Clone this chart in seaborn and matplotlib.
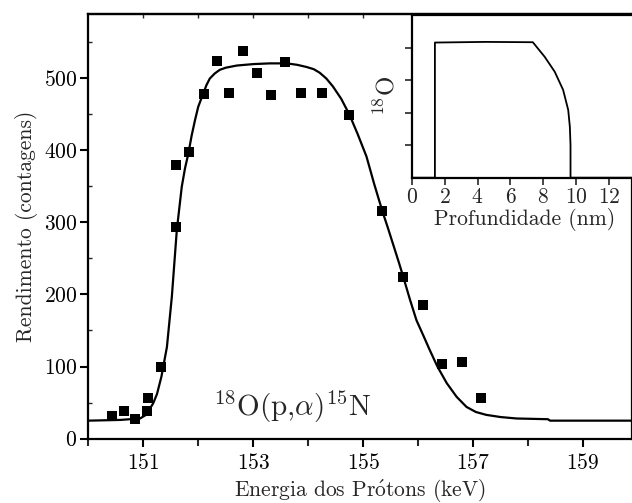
import numpy as np
import pandas as pd
import seaborn as sns
import matplotlib
matplotlib.use("Agg")
import matplotlib.pyplot as plt
from matplotlib.ticker import MultipleLocator

# measured yield (squares)
energia = [150.44, 150.65, 150.85, 151.07, 151.09, 151.33, 151.59, 151.59, 151.84,
           152.10, 152.35, 152.56, 152.82, 153.07, 153.32, 153.58, 153.87, 154.25,
           154.75, 155.35, 155.73, 156.08, 156.43, 156.79, 157.14]
rendimento = [32, 39, 27, 39, 57, 100, 294, 379, 397,
              477, 523, 479, 537, 506, 476, 522, 479, 479,
              449, 315, 224, 185, 104, 106, 57]

# simulated excitation curve
energia_sim = [150.0, 150.58, 150.94, 151.05, 151.18, 151.25, 151.33, 151.43, 151.52,
               151.61, 151.70, 151.76, 151.82, 151.88, 151.94, 152.0, 152.09, 152.15,
               152.21, 152.3, 152.39, 152.5, 152.7, 153.0, 153.3, 153.61, 153.8,
               153.97, 154.1, 154.21, 154.33, 154.45, 154.6, 154.75, 154.9, 155.06,
               155.2, 155.35, 155.45, 155.55, 155.65, 155.73, 155.85, 155.97, 156.1,
               156.21, 156.35, 156.52, 156.7, 156.88, 157.05, 157.24, 157.5, 157.79,
               158.36, 158.40, 159.95]
rendimento_sim = [25, 26, 28, 33, 49, 62, 86, 127, 197,
                  289, 349, 375, 395, 420, 441, 460, 478, 490,
                  499, 506, 511, 514, 517, 519, 520, 520, 518,
                  515, 512, 507, 499, 488, 471, 449, 422, 391,
                  353, 315, 292, 268, 244, 224, 193, 164, 142,
                  123, 100, 77, 58, 44, 37, 33, 30, 28,
                  27, 25, 25]

# 18O depth profile (inset)
profundidade = [0.0, 1.41, 1.41, 4.5, 7.36, 8.08, 8.69, 9.20, 9.51, 9.61, 9.65, 9.65, 13.6]
concentracao = [0.0, 0.0, 4.17, 4.19, 4.18, 3.73, 3.27, 2.71, 2.09, 1.57, 1.0, 0.0, 0.0]

df_pts = pd.DataFrame({"E": energia, "Y": rendimento})
df_sim = pd.DataFrame({"E": energia_sim, "Y": rendimento_sim})
df_prof = pd.DataFrame({"x": profundidade, "c": concentracao})

sns.set_style("ticks")
plt.rcParams["font.family"] = ["cmr10", "DejaVu Serif"]
plt.rcParams["mathtext.fontset"] = "cm"
plt.rcParams["axes.formatter.use_mathtext"] = True
plt.rcParams["axes.unicode_minus"] = False

fs = 15.5

fig = plt.figure(figsize=(6.32, 5.03), dpi=100)
ax = fig.add_axes([88.3 / 632, (503 - 438.7) / 503, (632 - 88.3) / 632, (438.7 - 14.3) / 503])

sns.lineplot(data=df_sim, x="E", y="Y", ax=ax, color="black", lw=1.6,
             sort=False, estimator=None)
sns.scatterplot(data=df_pts, x="E", y="Y", ax=ax, marker="s", s=48,
                color="black", edgecolor="black", linewidth=0, zorder=3)

ax.set_xlim(150, 159.89)
ax.set_ylim(0, 588)
ax.set_xticks([151, 153, 155, 157, 159])
ax.set_xticks([150, 152, 154, 156, 158], minor=True)
ax.yaxis.set_major_locator(MultipleLocator(100))
ax.yaxis.set_minor_locator(MultipleLocator(50))
ax.tick_params(axis="both", which="major", direction="out", length=6, width=1.5,
               labelsize=fs, color="black", labelcolor="black", pad=2)
ax.tick_params(axis="x", which="major", pad=4)
ax.tick_params(axis="x", which="minor", direction="out", length=5, width=1.5)
ax.tick_params(axis="y", which="minor", direction="in", length=3, width=1)
for s in ax.spines.values():
    s.set_linewidth(1.6)
    s.set_color("black")

# small inward ticks along the top edge
top = ax.secondary_xaxis("top")
top.set_xticks([151, 152, 153, 154, 155, 156, 157, 158, 159])
top.tick_params(direction="in", length=3, width=1, labeltop=False)
top.spines["top"].set_linewidth(1.6)

ax.set_xlabel(r"Energia dos Pr$\acute{\mathrm{o}}$tons (keV)", fontsize=fs, labelpad=3)
ax.set_ylabel("Rendimento (contagens)", fontsize=fs, labelpad=4)
ax.text(153.71, 31, r"$^{18}$O(p,$\alpha$)$^{15}$N", fontsize=21,
        ha="center", va="baseline")

# inset
ins = fig.add_axes([411.7 / 632, (503 - 177.7) / 503, (632 - 411.7) / 632 + 0.01, (177.7 - 15) / 503])
ins.set_facecolor("white")
sns.lineplot(data=df_prof, x="x", y="c", ax=ins, color="black", lw=1.3,
             sort=False, estimator=None)
ins.set_xlim(0, 13.77)
ins.set_ylim(0, 5.02)
ins.set_xticks([0, 2, 4, 6, 8, 10, 12])
ins.set_yticks([1, 2, 3, 4])
ins.set_yticklabels([])
ins.tick_params(axis="both", direction="out", length=5, width=1.2,
                labelsize=fs, pad=2)
for s in ins.spines.values():
    s.set_linewidth(1.6)
    s.set_color("black")
ins.set_xlabel("Profundidade (nm)", fontsize=fs, labelpad=1)
ins.set_ylabel(r"$^{18}$O", fontsize=18, labelpad=2)

fig.savefig("out.png", dpi=100)
